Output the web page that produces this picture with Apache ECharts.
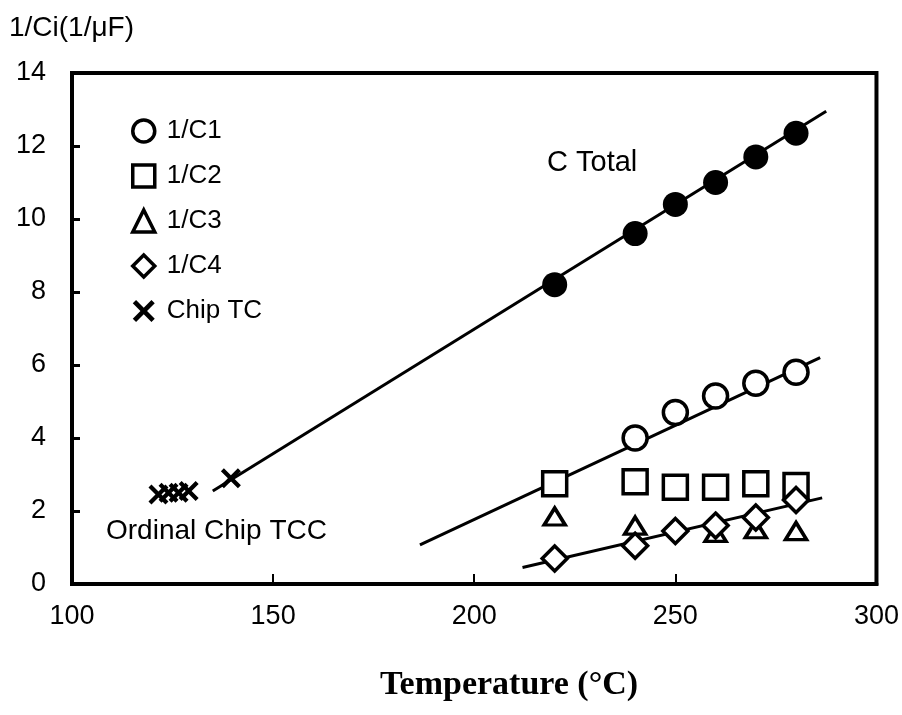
<!DOCTYPE html>
<html>
<head>
<meta charset="utf-8">
<script src="https://cdn.jsdelivr.net/npm/echarts@6/dist/echarts.min.js"></script>
<style>
  html, body { margin: 0; padding: 0; background: #fff; }
  #chart { width: 902px; height: 715px; }
</style>
</head>
<body>
<div id="chart"></div>
<script>
// 数据 (读自图片)
var temps = [220, 240, 250, 260, 270, 280];
var cTotal = [8.2, 9.6, 10.4, 11.0, 11.7, 12.35];
var invC1 = [[240, 4.0], [250, 4.7], [260, 5.15], [270, 5.5], [280, 5.8]];
var invC2 = [2.75, 2.8, 2.65, 2.65, 2.75, 2.7];
var invC3 = [[220, 1.85], [240, 1.6], [260, 1.4], [270, 1.5], [280, 1.45]];
var invC4 = [0.7, 1.05, 1.45, 1.6, 1.82, 2.3];
var chipTC = [[121.5, 2.45], [124, 2.5], [126.5, 2.5], [129, 2.55], [139.5, 2.9]];

// 拟合直线的两端
var fitTotal = [[135, 2.55], [287.5, 12.95]];
var fitC1 = [[186.5, 1.07], [286, 6.2]];
var fitC4 = [[212, 0.45], [286.5, 2.36]];

var legendNames = ['1/C1', '1/C2', '1/C3', '1/C4', 'Chip TC'];
var xTicks = [100, 150, 200, 250, 300];

var crossPath = 'path://M0,3 L3,0 L10,7 L17,0 L20,3 L13,10 L20,17 L17,20 L10,13 L3,20 L0,17 L7,10 Z';

function pairs(xs, ys) {
  return xs.map(function (x, i) { return [x, ys[i]]; });
}

var chart = echarts.init(document.getElementById('chart'));

var openStyle = { color: '#fff', borderColor: '#000', borderWidth: 3.5, opacity: 1 };

function fitLine(name, data) {
  return {
    name: name, type: 'line', data: data, symbol: 'none', z: 1,
    lineStyle: { color: '#000', width: 3 }, silent: true
  };
}

var option = {
  animation: false,
  backgroundColor: '#fff',
  grid: {
    left: 72, right: 24, top: 73, bottom: 131,
    show: true, borderColor: '#000', borderWidth: 4
  },
  legend: {
    data: legendNames,
    orient: 'vertical',
    left: 126, top: 113,
    itemWidth: 22, itemHeight: 22, itemGap: 19,
    itemStyle: { borderWidth: 3.5 },
    textStyle: { color: '#000', fontSize: 26, padding: [0, 0, 0, 7], fontFamily: 'Liberation Sans, Arial' }
  },
  xAxis: {
    type: 'value', min: 100, max: 300, interval: 50,
    axisLine: { lineStyle: { color: '#000', width: 4 } },
    axisTick: { inside: true, length: 10, lineStyle: { color: '#000', width: 2 } },
    splitLine: { show: false },
    axisLabel: {
      color: '#000', fontSize: 27, margin: 19, fontFamily: 'Liberation Sans, Arial',
      formatter: function (v) { return xTicks.indexOf(v) >= 0 ? String(v) : ''; }
    }
  },
  yAxis: {
    type: 'value', min: 0, max: 14, interval: 2,
    axisLine: { lineStyle: { color: '#000', width: 4 } },
    axisTick: { inside: true, length: 8, lineStyle: { color: '#000', width: 3 } },
    splitLine: { show: false },
    axisLabel: { color: '#000', fontSize: 27, margin: 26, fontFamily: 'Liberation Sans, Arial' }
  },
  graphic: [
    { type: 'text', left: 9, top: 14, style: { text: '1/Ci(1/μF)', fontSize: 28, fill: '#000', fontFamily: 'Liberation Sans, Arial' } },
    { type: 'text', left: 547, top: 148, style: { text: 'C Total', fontSize: 29, fill: '#000', fontFamily: 'Liberation Sans, Arial' } },
    { type: 'text', left: 106, top: 517, style: { text: 'Ordinal Chip TCC', fontSize: 28, fill: '#000', fontFamily: 'Liberation Sans, Arial' } },
    { type: 'text', left: 380, top: 668, style: { text: 'Temperature (°C)', fontSize: 34, fill: '#000', fontFamily: 'Liberation Serif, Times New Roman', fontWeight: 'bold' } }
  ],
  series: [
    fitLine('fitTotal', fitTotal),
    fitLine('fitC1', fitC1),
    fitLine('fitC4', fitC4),
    { name: 'C Total', type: 'scatter', data: pairs(temps, cTotal), symbol: 'circle', symbolSize: 25, z: 3,
      itemStyle: { color: '#000', opacity: 1 } },
    { name: '1/C1', type: 'scatter', data: invC1, symbol: 'circle', symbolSize: 24, z: 3, itemStyle: openStyle },
    { name: '1/C2', type: 'scatter', data: pairs(temps, invC2), symbol: 'rect', symbolSize: 24, z: 3, itemStyle: openStyle },
    { name: '1/C3', type: 'scatter', data: invC3, symbol: 'triangle', symbolSize: [21, 17], z: 3, itemStyle: openStyle },
    { name: '1/C4', type: 'scatter', data: pairs(temps, invC4), symbol: 'diamond', symbolSize: [25, 25], z: 4, itemStyle: openStyle },
    { name: 'Chip TC', type: 'scatter', data: chipTC, symbol: crossPath, symbolSize: 20, z: 3,
      itemStyle: { color: '#000', opacity: 1 } }
  ]
};

chart.setOption(option);
</script>
</body>
</html>
